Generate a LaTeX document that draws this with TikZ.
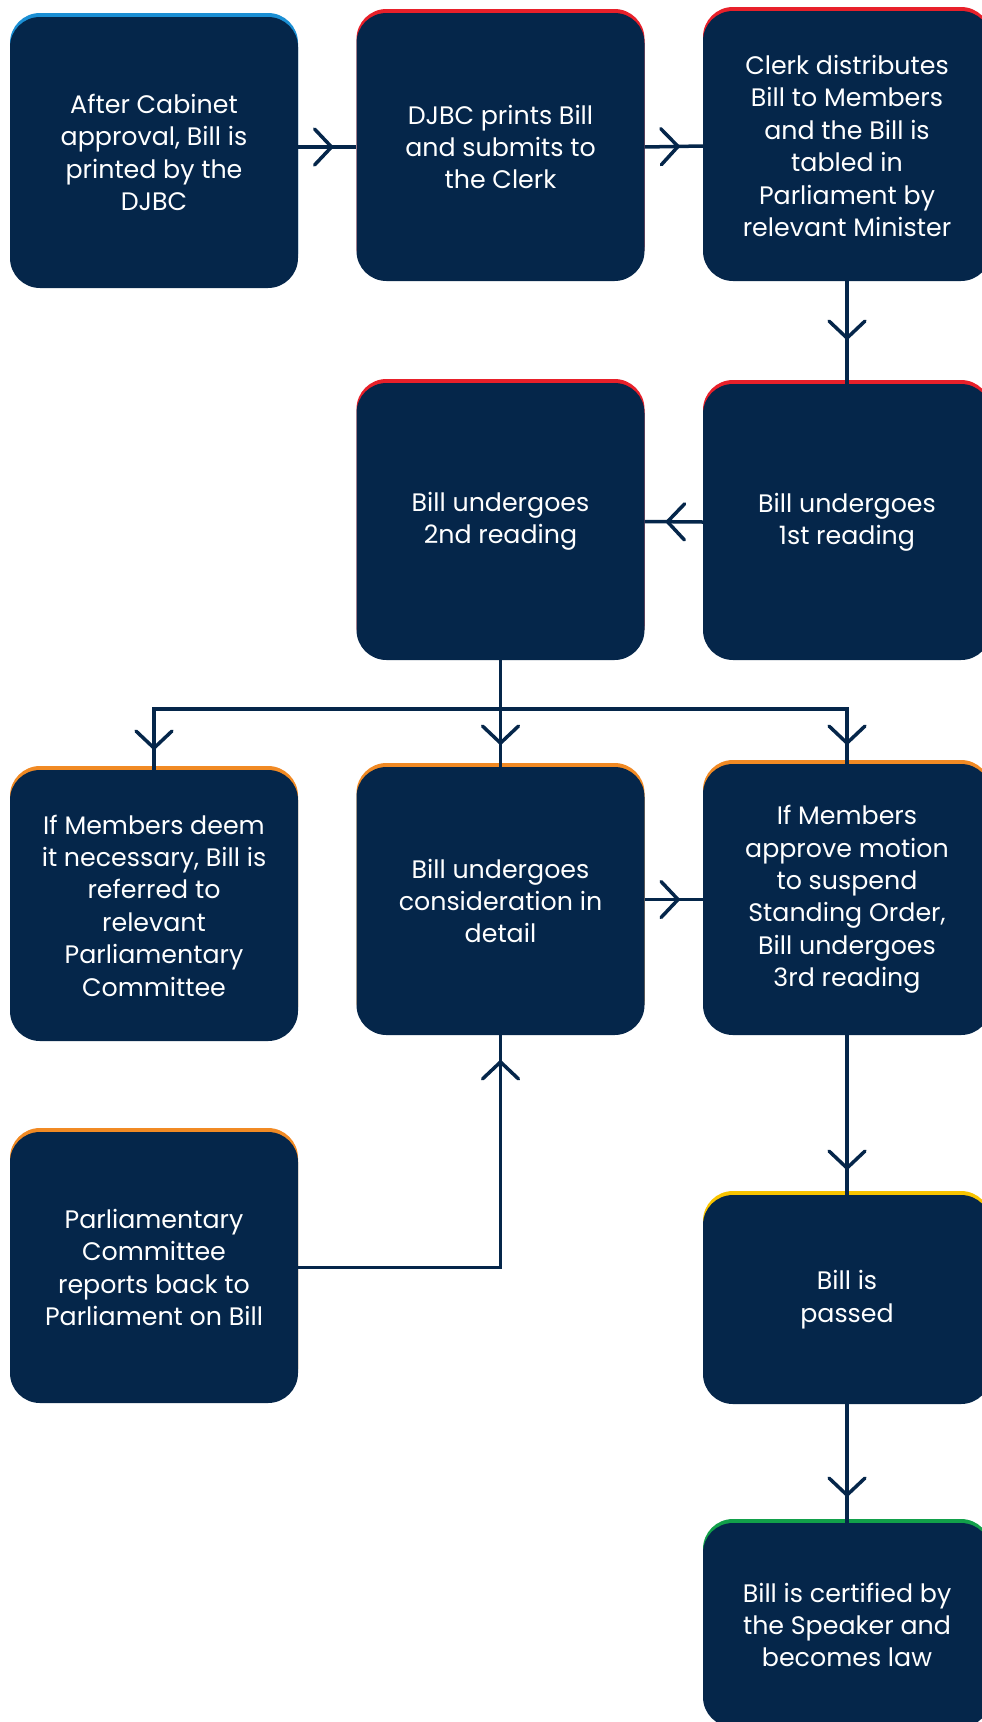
\documentclass[tikz,border=0pt]{standalone}
\usepackage{fontspec}
\setmainfont{Poppins}
\usetikzlibrary{arrows.meta,decorations.markings}

\definecolor{navy}{HTML}{05264A}
\definecolor{accblue}{HTML}{1B8FD4}
\definecolor{accred}{HTML}{E8202A}
\definecolor{accorange}{HTML}{F18A24}
\definecolor{accyellow}{HTML}{F9C400}
\definecolor{accgreen}{HTML}{12A04A}

\tikzset{
  stepbox/.style={rectangle, rounded corners=30pt, fill=navy, text=white,
    align=center, inner sep=0pt, minimum width=288pt,
    font=\fontsize{25.3}{32.4}\selectfont},
  accent/.style={preaction={fill=#1, transform canvas={yshift=4pt}}},
  barb/.tip={Straight Barb[length=17pt, width=36pt, line cap=round, line join=round]},
  link/.style={draw=navy, line width=3.5pt},
  flow/.style={link, postaction={decorate},
    decoration={markings, mark=at position #1 with {\arrow{barb}}}},
  flow/.default=-23pt
}

\begin{document}
\begin{tikzpicture}[x=1pt, y=-1pt]
\useasboundingbox (0,0) rectangle (982,1722);

% First row
\node[stepbox, accent=accblue, minimum height=271pt] (b1) at (154, 152.5)
  {After Cabinet\\approval, Bill is\\printed by the\\DJBC};
\node[stepbox, accent=accred, minimum height=268pt] (b2) at (500.5, 147)
  {DJBC prints Bill\\and submits to\\the Clerk};
\node[stepbox, accent=accred, minimum height=270pt] (b3) at (847, 146)
  {Clerk distributes\\Bill to Members\\and the Bill is\\tabled in\\Parliament by\\relevant Minister};

% Readings
\node[stepbox, accent=accred, minimum height=277pt] (b4) at (500.5, 521.5)
  {Bill undergoes\\2nd reading};
\node[stepbox, accent=accred, minimum height=276pt] (b5) at (847, 522)
  {Bill undergoes\\1st reading};

% After 2nd reading
\node[stepbox, accent=accorange, minimum height=271pt] (b6) at (154, 905.5)
  {If Members deem\\it necessary, Bill is\\referred to\\relevant\\Parliamentary\\Committee};
\node[stepbox, accent=accorange, minimum height=268pt] (b7) at (500.5, 901)
  {Bill undergoes\\consideration in\\detail};
\node[stepbox, accent=accorange, minimum height=271pt] (b8) at (847, 899.5)
  {If Members\\approve motion\\to suspend\\Standing Order,\\Bill undergoes\\3rd reading};
\node[stepbox, accent=accorange, minimum height=271pt] (b9) at (154, 1267.5)
  {Parliamentary\\Committee\\reports back to\\Parliament on Bill};

% Final steps
\node[stepbox, accent=accyellow, minimum height=209pt] (b10) at (847, 1299.5)
  {Bill is\\passed};
\node[stepbox, accent=accgreen, minimum height=204pt] (b11) at (847, 1625)
  {Bill is certified by\\the Speaker and\\becomes law};

% Connectors
\draw[flow] (b1.east |- b2.west) -- (b2.west);
\draw[flow] (b2.east) -- (b3.west);
\draw[flow=-44pt] (b3.south) -- (b5.north);
\draw[flow=-21pt] (b5.west) -- (b4.east);

\coordinate (split) at (b4.south |- 0,709);
\draw[link] (b4.south) -- (split);
\draw[flow=-20pt] (split) -| (b6.north);
\draw[flow=-22pt] (split) -- (b7.north);
\draw[flow=-19pt] (split) -| (b8.north);

\draw[flow] (b7.east |- b8.west) -- (b8.west);
\draw[flow=-25pt] (b9.east) -| (b7.south);
\draw[flow=-25pt] (b8.south) -- (b10.north);
\draw[flow=-26pt] (b10.south) -- (b11.north);
\end{tikzpicture}
\end{document}
